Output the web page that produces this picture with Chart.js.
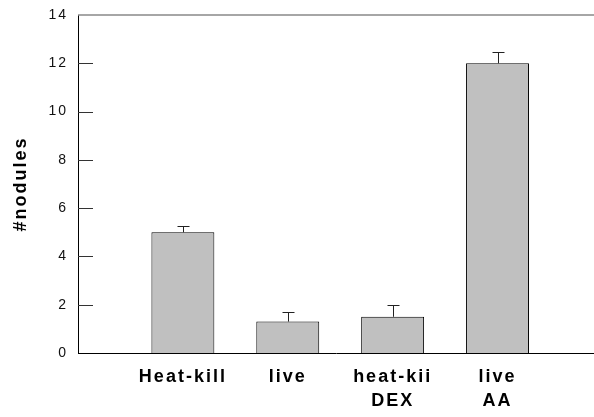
<!DOCTYPE html>
<html>
<head>
<meta charset="utf-8">
<script src="https://cdn.jsdelivr.net/npm/chart.js@4/dist/chart.umd.min.js"></script>
<style>
  html, body { margin: 0; padding: 0; background: #fff; }
  #wrap { width: 594px; height: 417px; }
</style>
</head>
<body>
<div id="wrap"><canvas id="chart" width="594" height="417"></canvas></div>
<script>
// data
const categories = ['Heat-kill', 'live', ['heat-kii', 'DEX'], ['live', 'AA']];
const positions = [1, 2, 3, 4];
const nodules = [5.0, 1.3, 1.5, 12.0];
const errors = [0.25, 0.4, 0.5, 0.47];
const yTicks = [0, 2, 4, 6, 8, 10, 12, 14];

// canvas letter spacing for the wide-spaced Helvetica look
const spacingPlugin = {
  id: 'spacing',
  beforeDraw(chart) { chart.ctx.letterSpacing = '2px'; },
  afterDraw(chart) { chart.ctx.letterSpacing = '0px'; }
};

// inward y ticks, top frame line and one-sided error bars
const decorPlugin = {
  id: 'decor',
  afterDatasetsDraw(chart) {
    const { ctx, chartArea, scales } = chart;
    const x = scales.x, y = scales.y;
    ctx.save();
    ctx.letterSpacing = '0px';

    // top frame line
    ctx.strokeStyle = '#888';
    ctx.lineWidth = 1.5;
    ctx.beginPath();
    ctx.moveTo(chartArea.left, chartArea.top);
    ctx.lineTo(chartArea.right, chartArea.top);
    ctx.stroke();

    // tick marks pointing into the plot
    ctx.strokeStyle = '#333';
    ctx.lineWidth = 1;
    yTicks.slice(1, -1).forEach(v => {
      const py = Math.round(y.getPixelForValue(v)) + 0.5;
      ctx.beginPath();
      ctx.moveTo(chartArea.left, py);
      ctx.lineTo(chartArea.left + 15, py);
      ctx.stroke();
    });

    // error bars (upper only)
    ctx.strokeStyle = '#222';
    nodules.forEach((v, i) => {
      const px = Math.round(x.getPixelForValue(positions[i])) + 0.5;
      const yBar = y.getPixelForValue(v);
      const yTop = Math.round(y.getPixelForValue(v + errors[i])) + 0.5;
      ctx.beginPath();
      ctx.moveTo(px, yBar);
      ctx.lineTo(px, yTop);
      ctx.moveTo(px - 6, yTop);
      ctx.lineTo(px + 6, yTop);
      ctx.stroke();
    });
    ctx.restore();
  }
};

new Chart(document.getElementById('chart'), {
  type: 'bar',
  data: {
    datasets: [{
      data: positions.map((p, i) => ({ x: p, y: nodules[i] })),
      backgroundColor: '#c0c0c0',
      borderColor: '#000',
      borderWidth: 1,
      barPercentage: 0.6,
      categoryPercentage: 1
    }]
  },
  options: {
    responsive: false,
    animation: false,
    layout: { padding: { top: 15, left: 0, right: 0, bottom: 0 } },
    plugins: {
      legend: { display: false },
      tooltip: { enabled: false }
    },
    scales: {
      x: {
        type: 'linear',
        offset: false,
        min: 0,
        max: 4.92,
        afterBuildTicks: scale => {
          scale.ticks = positions.map(v => ({ value: v }));
        },
        afterFit: scale => {
          scale.height = 64;
          scale.paddingLeft = 0;
          scale.paddingRight = 0;
        },
        grid: { display: false, drawTicks: false },
        border: { color: '#000', width: 1 },
        ticks: {
          autoSkip: false,
          maxRotation: 0,
          padding: 12,
          color: '#000',
          font: { family: 'Liberation Sans, Arial, sans-serif', size: 18, weight: 'bold', lineHeight: 1.35 },
          callback: (value) => {
            const i = positions.indexOf(value);
            return i >= 0 ? categories[i] : '';
          }
        }
      },
      y: {
        min: 0,
        max: 14,
        afterBuildTicks: scale => {
          scale.ticks = yTicks.map(v => ({ value: v }));
        },
        afterFit: scale => {
          scale.width = 78;
          scale.paddingTop = 0;
          scale.paddingBottom = 0;
        },
        grid: { display: false, drawTicks: false },
        border: { color: '#000', width: 1 },
        ticks: {
          padding: 10,
          color: '#111',
          font: { family: 'Liberation Sans, Arial, sans-serif', size: 14 }
        },
        title: {
          display: true,
          text: '#nodules',
          color: '#000',
          padding: { top: 10, bottom: 0 },
          font: { family: 'Liberation Sans, Arial, sans-serif', size: 18, weight: 'bold' }
        }
      }
    }
  },
  plugins: [spacingPlugin, decorPlugin]
});
</script>
</body>
</html>
